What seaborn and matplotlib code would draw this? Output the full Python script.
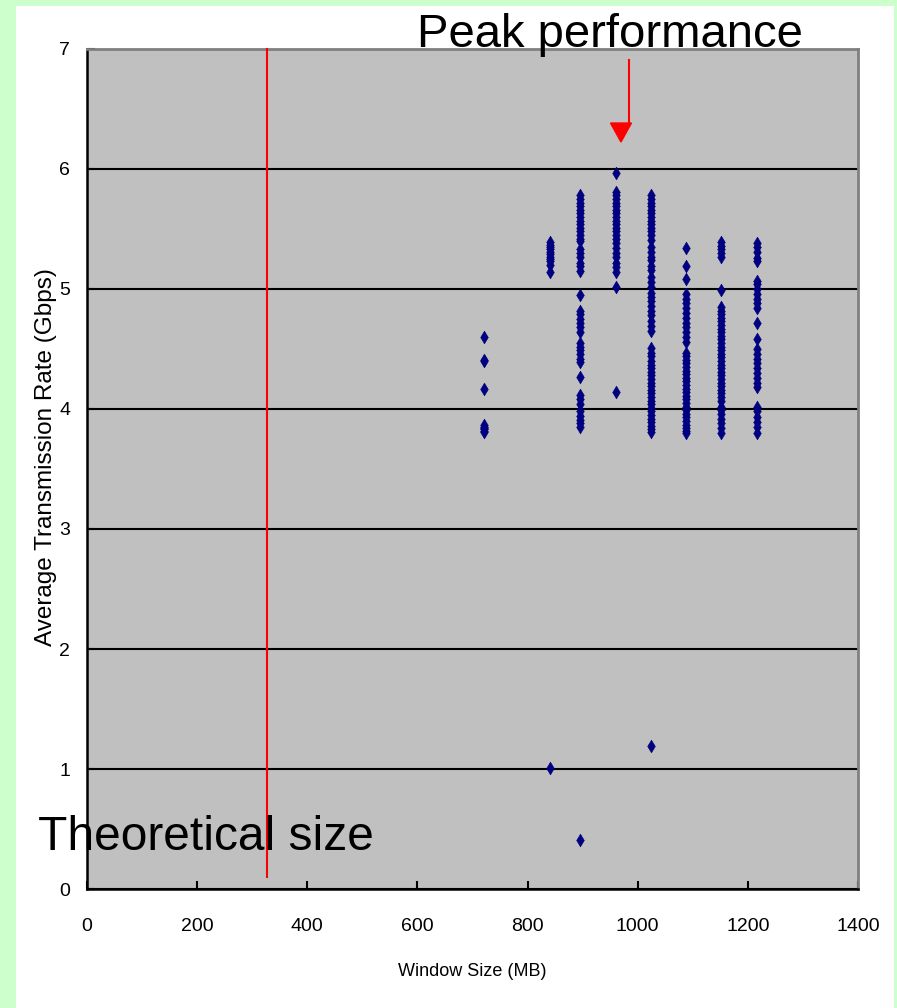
import matplotlib
matplotlib.use("Agg")
import matplotlib.pyplot as plt
import matplotlib.patches as mpatches
import seaborn as sns
import pandas as pd

# ---- data ----
window_sizes = [720, 840, 896, 960, 1024, 1088, 1152, 1216]

rates_720 = [4.60, 4.41, 4.40, 4.17, 3.87, 3.85, 3.84, 3.83, 3.82, 3.81]
rates_840 = [5.39, 5.37, 5.35, 5.33, 5.31, 5.29, 5.27, 5.25, 5.23, 5.20, 5.14, 1.01]
rates_896 = [5.78, 5.75, 5.72, 5.69, 5.66, 5.63, 5.60, 5.57, 5.54, 5.51, 5.48, 5.45,
             5.42, 5.40, 5.33, 5.30, 5.27, 5.22, 5.19, 5.15, 4.95, 4.82, 4.79, 4.75,
             4.72, 4.68, 4.64, 4.55, 4.52, 4.49, 4.46, 4.42, 4.39, 4.27, 4.12, 4.08,
             4.04, 3.98, 3.94, 3.91, 3.88, 3.85, 0.41]
rates_960 = [5.97, 5.81, 5.78, 5.75, 5.72, 5.69, 5.66, 5.63, 5.60, 5.57, 5.54, 5.51,
             5.48, 5.45, 5.42, 5.38, 5.34, 5.30, 5.27, 5.22, 5.18, 5.14, 5.02, 4.14]
rates_1024 = [5.78, 5.75, 5.72, 5.69, 5.66, 5.63, 5.60, 5.57, 5.54, 5.51, 5.48, 5.45,
              5.41, 5.35, 5.31, 5.27, 5.24, 5.19, 5.16, 5.10, 5.06, 5.02, 4.97, 4.93,
              4.90, 4.86, 4.82, 4.78, 4.73, 4.69, 4.65, 4.51, 4.47, 4.44, 4.40, 4.37,
              4.34, 4.31, 4.28, 4.25, 4.22, 4.19, 4.16, 4.13, 4.10, 4.07, 4.04, 4.01,
              3.98, 3.95, 3.92, 3.89, 3.86, 3.83, 3.81, 1.19]
rates_1088 = [5.34, 5.19, 5.08, 4.96, 4.92, 4.88, 4.84, 4.80, 4.76, 4.72, 4.68, 4.64,
              4.60, 4.56, 4.47, 4.44, 4.41, 4.38, 4.35, 4.32, 4.29, 4.26, 4.23, 4.20,
              4.17, 4.14, 4.11, 4.08, 4.05, 4.02, 3.99, 3.96, 3.93, 3.90, 3.87, 3.84,
              3.82, 3.80]
rates_1152 = [5.39, 5.36, 5.33, 5.30, 5.27, 4.99, 4.85, 4.82, 4.79, 4.76, 4.73, 4.70,
              4.67, 4.64, 4.61, 4.58, 4.55, 4.52, 4.49, 4.46, 4.43, 4.40, 4.37, 4.34,
              4.31, 4.28, 4.25, 4.22, 4.19, 4.16, 4.13, 4.10, 4.07, 4.02, 3.99, 3.96,
              3.92, 3.88, 3.84, 3.80]
rates_1216 = [5.38, 5.35, 5.31, 5.26, 5.23, 5.07, 5.04, 5.00, 4.96, 4.92, 4.88, 4.84,
              4.72, 4.58, 4.50, 4.46, 4.42, 4.38, 4.34, 4.30, 4.26, 4.22, 4.18, 4.02,
              3.98, 3.93, 3.89, 3.85, 3.80]

all_rates = [rates_720, rates_840, rates_896, rates_960,
             rates_1024, rates_1088, rates_1152, rates_1216]

theoretical_size = 327
peak_window = 970

x_ticks = [0, 200, 400, 600, 800, 1000, 1200, 1400]
y_ticks = [0, 1, 2, 3, 4, 5, 6, 7]

rows = []
for w, rs in zip(window_sizes, all_rates):
    for r in rs:
        rows.append({"Window Size (MB)": w, "Rate": r})
df = pd.DataFrame(rows)

# ---- figure ----
W, H = 897, 1008
fig = plt.figure(figsize=(W / 100, H / 100), dpi=100)
fig.patch.set_facecolor("#CCFFCC")
fig.patches.append(mpatches.Rectangle((16 / W, 0), (894 - 16) / W, (H - 6) / H,
                                      transform=fig.transFigure, facecolor="white",
                                      edgecolor="none", zorder=-5))

ax = fig.add_axes([87 / W, 1 - 889 / H, (858 - 87) / W, (889 - 49) / H])
ax.set_zorder(2)
ax.set_facecolor("#C0C0C0")

narrow = ["Liberation Sans Narrow", "Liberation Sans", "DejaVu Sans"]
regular = ["Liberation Sans", "DejaVu Sans"]

sns.scatterplot(data=df, x="Window Size (MB)", y="Rate", ax=ax, marker="d",
                s=42, color="#000080", edgecolor="#000080", linewidth=0.4, zorder=4,
                legend=False)

ax.set_xlim(0, 1400)
ax.set_ylim(0, 7)
ax.set_xticks(x_ticks)
ax.set_yticks(y_ticks)
ax.set_xticklabels([str(t) for t in x_ticks], family=narrow, fontsize=14)
ax.set_yticklabels([str(t) for t in y_ticks], family=narrow, fontsize=14)
ax.tick_params(axis="x", direction="in", length=6, width=1.5, pad=21, color="black")
ax.tick_params(axis="y", direction="in", length=6, width=1.5, pad=12, color="black")

ax.yaxis.grid(True, color="black", linewidth=1.5, zorder=1)
ax.xaxis.grid(False)
ax.set_axisbelow(True)

for s in ["left", "bottom"]:
    ax.spines[s].set_color("black")
    ax.spines[s].set_linewidth(1.8)
for s in ["top", "right"]:
    ax.spines[s].set_color("#808080")
    ax.spines[s].set_linewidth(2)

ax.set_xlabel("Window Size (MB)", family=narrow, fontsize=13, labelpad=20)
ax.set_ylabel("Average Transmission Rate (Gbps)", family=regular, fontsize=17.5)
ax.yaxis.set_label_coords(-0.039, 0.514)

# theoretical size line
ax.plot([theoretical_size, theoretical_size], [0.1, 7], color="red", linewidth=1.5,
        zorder=3, clip_on=False)

# peak performance arrow
ax.plot([984, 984], [6.91, 6.38], color="red", linewidth=1.5, zorder=5, clip_on=False)
ax.add_patch(mpatches.Polygon([[950.6, 6.383], [988.7, 6.383], [969.6, 6.225]],
                              closed=True, facecolor="red", edgecolor="red", zorder=5,
                              clip_on=False))

ax.text(950, 7.02, "Peak performance", family=regular, fontsize=34, ha="center",
        va="baseline", color="black", zorder=6, clip_on=False)
ax.text(-89, 0.325, "Theoretical size", family=regular, fontsize=34.5, ha="left",
        va="baseline", color="black", zorder=6, clip_on=False)

fig.savefig("out.png", dpi=100, facecolor=fig.get_facecolor())
